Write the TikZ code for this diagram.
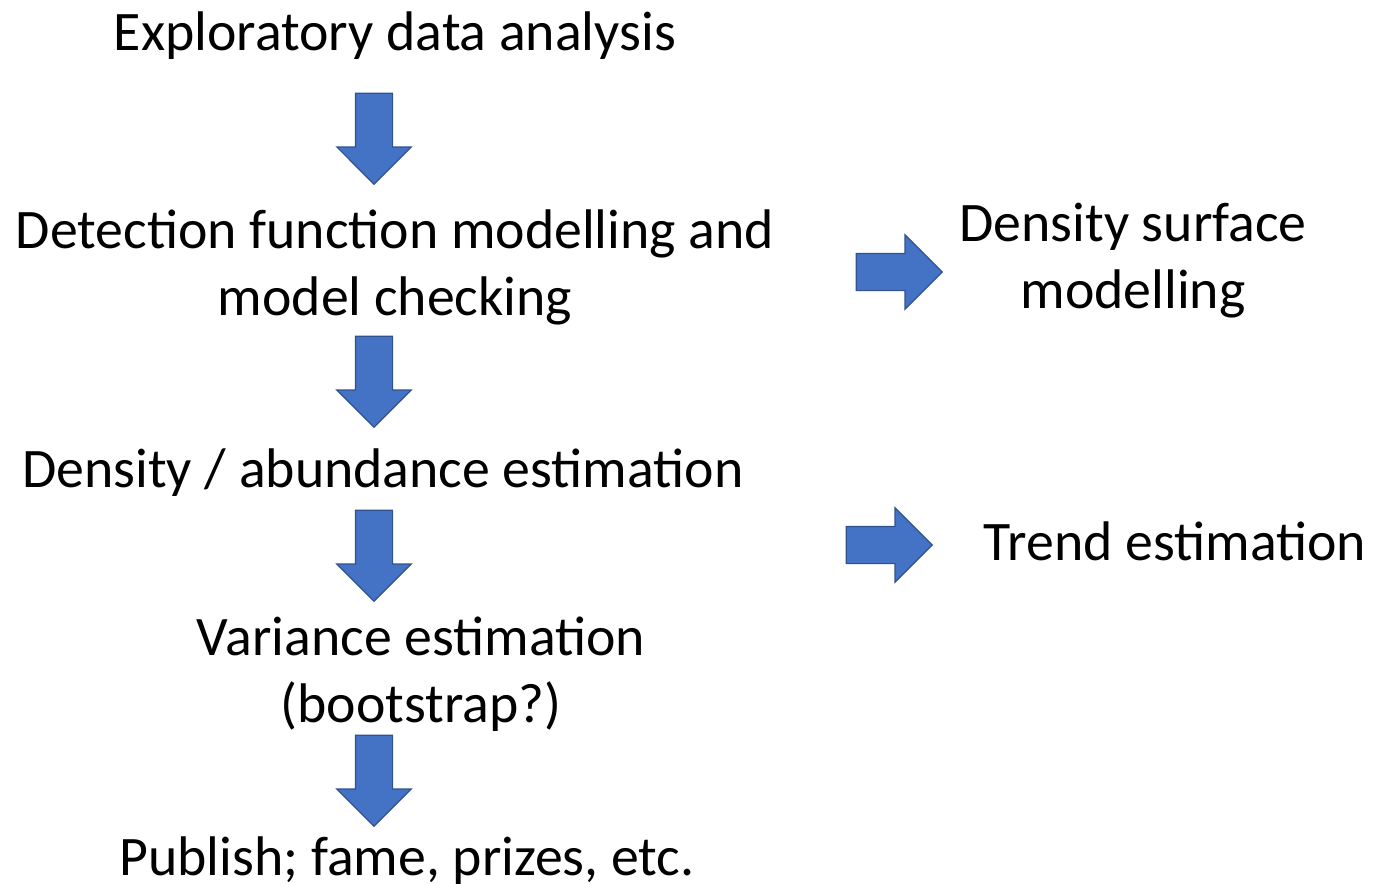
\documentclass[tikz,border=0pt]{standalone}
\usepackage{fontspec}
\setmainfont{Carlito}
\usetikzlibrary{shapes.arrows}
\definecolor{arrowfill}{HTML}{4472C4}
\definecolor{arrowline}{HTML}{2F528F}

\begin{document}
\begin{tikzpicture}[x=0.5bp,y=-0.5bp,
  stagetext/.style={inner sep=0pt,anchor=base,align=center,
    font=\fontsize{28}{33.5}\selectfont},
  blockarrow/.style={single arrow,fill=arrowfill,draw=arrowline,
    line width=0.6bp,inner xsep=0pt,inner ysep=9bp,minimum width=36.5bp,
    minimum height=43bp,single arrow head extend=9.25bp,anchor=tip},
  downarrow/.style={blockarrow,shape border rotate=270,
    inner xsep=9bp,inner ysep=0pt,minimum height=45.5bp},
]
\useasboundingbox (0,0) rectangle (1376,883);
%% stages (multi-line nodes sit on their last line)
\node (eda)   at (395,50)  [stagetext] {Exploratory data analysis};
\node (detfn) at (395,315) [stagetext] {Detection function modelling and\\model checking};
\node (dsm)   at (1133,308) [stagetext] {Density surface\\modelling};
\node (abund) at (383,487) [stagetext] {Density / abundance estimation};
\node (trend) at (1175,560) [stagetext] {Trend estimation};
\node (var)   at (421,722) [stagetext] {Variance estimation\\(bootstrap?)};
\node (pub)   at (407,875) [stagetext] {Publish; fame, prizes, etc.};
%% block arrows
\node (a1) at (374,185) [downarrow] {};
\node (a2) at (374,428) [downarrow] {};
\node (a3) at (374,602) [downarrow] {};
\node (a4) at (374,827) [downarrow] {};
\node (a5) at (943,272) [blockarrow] {};
\node (a6) at (933,545) [blockarrow] {};
%
\end{tikzpicture}
\end{document}
